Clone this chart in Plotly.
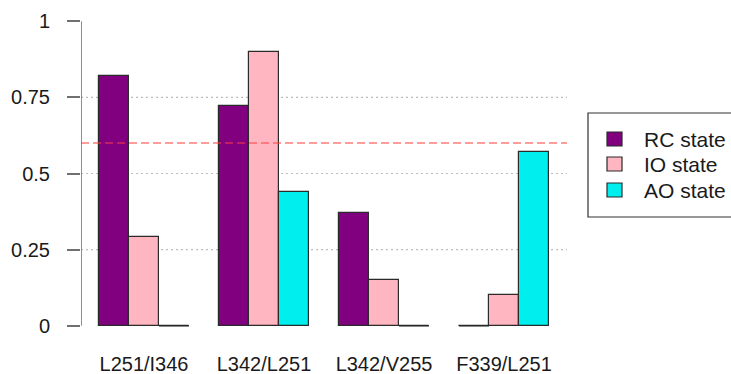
import numpy as np
import plotly.graph_objects as go

# Data
categories = ["L251/I346", "L342/L251", "L342/V255", "F339/L251"]
series_names = ["RC state", "IO state", "AO state"]
rc_values = [0.82, 0.72, 0.37, 0.00]
io_values = [0.29, 0.90, 0.15, 0.10]
ao_values = [0.00, 0.44, 0.00, 0.57]
threshold = 0.6
y_ticks = [0, 0.25, 0.5, 0.75, 1]
y_tick_labels = ["0", "0.25", "0.5", "0.75", "1"]
grid_levels = [0.25, 0.5, 0.75]

colors = ["#800080", "#FFB6C1", "#00EEEE"]
outline = "#2a2a2a"
font_family = "Liberation Sans, Arial, sans-serif"
text_color = "#1a1a1a"

# Side-by-side bars: each bar 1 unit wide, 1 unit gap between groups
n_groups = len(categories)
n_series = len(series_names)
group_start = 1 + np.arange(n_groups) * (n_series + 1)
group_centers = group_start + n_series / 2

W, H = 731, 374
ml, mr, mt, mb = 81, 164, 9, 36
x_range = [0.4, 16.6]
y_range = [-0.04, 1.04]
pw, ph = W - ml - mr, H - mt - mb


def px_to_paper(px, py):
    return (px - ml) / pw, (H - mb - py) / ph


fig = go.Figure()
shapes = []

for i, (name, vals, col) in enumerate(zip(series_names, [rc_values, io_values, ao_values], colors)):
    xs = group_start + i + 0.5
    fig.add_trace(go.Bar(
        x=xs, y=vals, name=name, width=1.0,
        marker=dict(color=col, line=dict(color=outline, width=1.2)),
        showlegend=False,
    ))
    # zero-height bars still show their outline as a flat stroke
    for x, v in zip(xs, vals):
        if v == 0:
            shapes.append(dict(type="line", xref="x", yref="y",
                               x0=x - 0.5, x1=x + 0.5, y0=v, y1=v,
                               line=dict(color=outline, width=1.5), layer="above"))

# dotted reference grid
for g in grid_levels:
    shapes.append(dict(type="line", xref="x", yref="y", x0=x_range[0], x1=x_range[1],
                       y0=g, y1=g, line=dict(color="#bdbdbd", width=1.2, dash="2px,3px"),
                       layer="below"))

# threshold line
shapes.append(dict(type="line", xref="x", yref="y", x0=x_range[0], x1=x_range[1],
                   y0=threshold, y1=threshold,
                   line=dict(color="rgba(255,60,60,0.5)", width=2, dash="8px,4px"),
                   layer="above"))

# left axis line spanning the tick range only
shapes.append(dict(type="line", xref="x", yref="y", x0=x_range[0], x1=x_range[0],
                   y0=y_ticks[0], y1=y_ticks[-1], line=dict(color="#707070", width=1.6)))

# legend box
bx0, by1 = px_to_paper(588, 113)
bx1, by0 = px_to_paper(770, 217)
shapes.append(dict(type="rect", xref="paper", yref="paper", x0=bx0, x1=bx1, y0=by0, y1=by1,
                   line=dict(color="#333333", width=1.2), fillcolor="white", layer="above"))

annotations = []
row_y = [139, 164, 190]
for name, col, ry in zip(series_names, colors, row_y):
    sx0, sy0 = px_to_paper(607, ry + 7)
    sx1, sy1 = px_to_paper(622, ry - 7)
    shapes.append(dict(type="rect", xref="paper", yref="paper", x0=sx0, x1=sx1, y0=sy0, y1=sy1,
                       fillcolor=col, line=dict(color=outline, width=1.2), layer="above"))
    tx, ty = px_to_paper(642, ry)
    annotations.append(dict(xref="paper", yref="paper", x=tx, y=ty, text=name,
                            showarrow=False, xanchor="left", yanchor="middle",
                            font=dict(size=21, color=text_color, family=font_family)))

fig.update_layout(
    width=W, height=H,
    margin=dict(l=ml, r=mr, t=mt, b=mb, pad=0),
    plot_bgcolor="white", paper_bgcolor="white",
    barmode="overlay",
    bargap=0,
    shapes=shapes,
    annotations=annotations,
    font=dict(family=font_family, size=20, color=text_color),
    xaxis=dict(range=x_range, showgrid=False, zeroline=False, showline=False,
               tickvals=group_centers, ticktext=categories, ticks="",
               tickfont=dict(size=20), ticklabelstandoff=12, automargin=False),
    yaxis=dict(range=y_range, showgrid=False, zeroline=False, showline=False,
               tickvals=y_ticks, ticktext=y_tick_labels, ticks="outside",
               ticklen=13, tickwidth=1.6, tickcolor="#707070",
               tickfont=dict(size=20), ticklabelstandoff=13, automargin=False),
    showlegend=False,
)

fig.write_html("out.html")
